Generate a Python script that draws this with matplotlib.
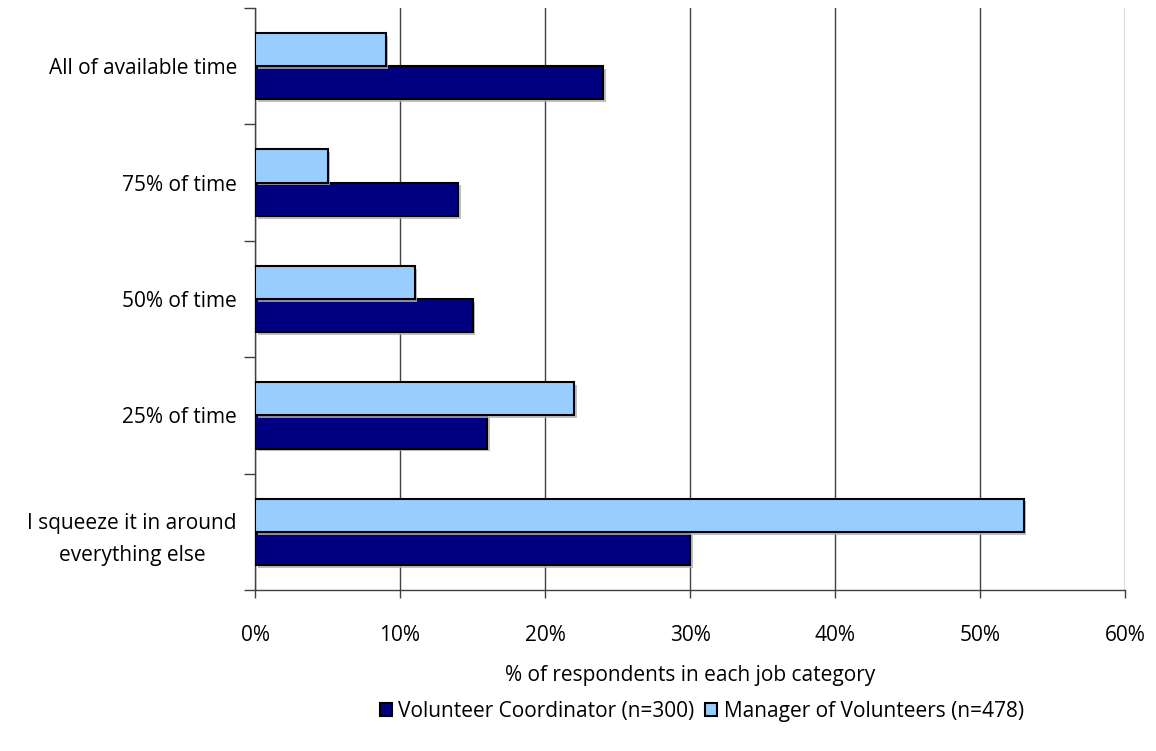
import numpy as np
import matplotlib.pyplot as plt
from matplotlib import patheffects
from matplotlib.ticker import FixedLocator, PercentFormatter

plt.rcParams['font.family'] = ['Open Sans', 'DejaVu Sans']

# Share of respondents per answer, bottom category first
categories = ["I squeeze it in around\neverything else", "25% of time", "50% of time",
              "75% of time", "All of available time"]
coordinator = [30, 16, 15, 14, 24]
manager = [53, 22, 11, 5, 9]

series_names = ["Volunteer Coordinator (n=300)", "Manager of Volunteers (n=478)"]
col_coord = "#000080"
col_manager = "#99CCFF"
fs = 15

fig = plt.figure(figsize=(11.56, 7.51), dpi=100)
ax = fig.add_axes([0.2206, 0.2144, 0.7526, 0.7749])

y = np.arange(len(categories))
h = 1 / 3.5
shadow = [patheffects.SimplePatchShadow(offset=(2, -2), shadow_rgbFace="#b0b0b0", alpha=0.8),
          patheffects.Normal()]

b1 = ax.barh(y - h / 2, coordinator, height=h, color=col_coord, edgecolor="black",
             linewidth=1.5, label=series_names[0], zorder=3)
b2 = ax.barh(y + h / 2, manager, height=h, color=col_manager, edgecolor="black",
             linewidth=1.5, label=series_names[1], zorder=3)
for bar in list(b1) + list(b2):
    bar.set_path_effects(shadow)

ax.set_xlim(0, 60)
ax.set_ylim(-0.5, len(categories) - 0.5)
ax.set_xticks(np.arange(0, 61, 10))
ax.xaxis.set_major_formatter(PercentFormatter(decimals=0))
ax.grid(axis="x", color="#404040", linewidth=1.0, zorder=0)
ax.set_axisbelow(True)

ax.set_yticks(y)
ax.set_yticklabels(categories, fontsize=fs, linespacing=1.65, multialignment="center")
ax.yaxis.set_minor_locator(FixedLocator(np.arange(-0.5, len(categories), 1.0)))
ax.tick_params(axis="y", which="major", length=0, pad=13)
ax.tick_params(axis="y", which="minor", length=8, width=1, color="#404040")
ax.tick_params(axis="x", length=6, width=1, color="#404040", labelsize=fs, pad=19)

for side in ["top", "right"]:
    ax.spines[side].set_visible(False)
for side in ["left", "bottom"]:
    ax.spines[side].set_color("#404040")
    ax.spines[side].set_linewidth(1.0)

ax.set_xlabel("% of respondents in each job category", fontsize=fs, labelpad=14)

leg = fig.legend(handles=[b1, b2], loc="center", bbox_to_anchor=(0.607, 0.053), ncol=2,
                 frameon=False, fontsize=fs, handlelength=0.6, handleheight=0.6,
                 handletextpad=0.3, columnspacing=0.5)
for patch in leg.get_patches():
    patch.set_path_effects([])

fig.savefig("out.png", dpi=100)
